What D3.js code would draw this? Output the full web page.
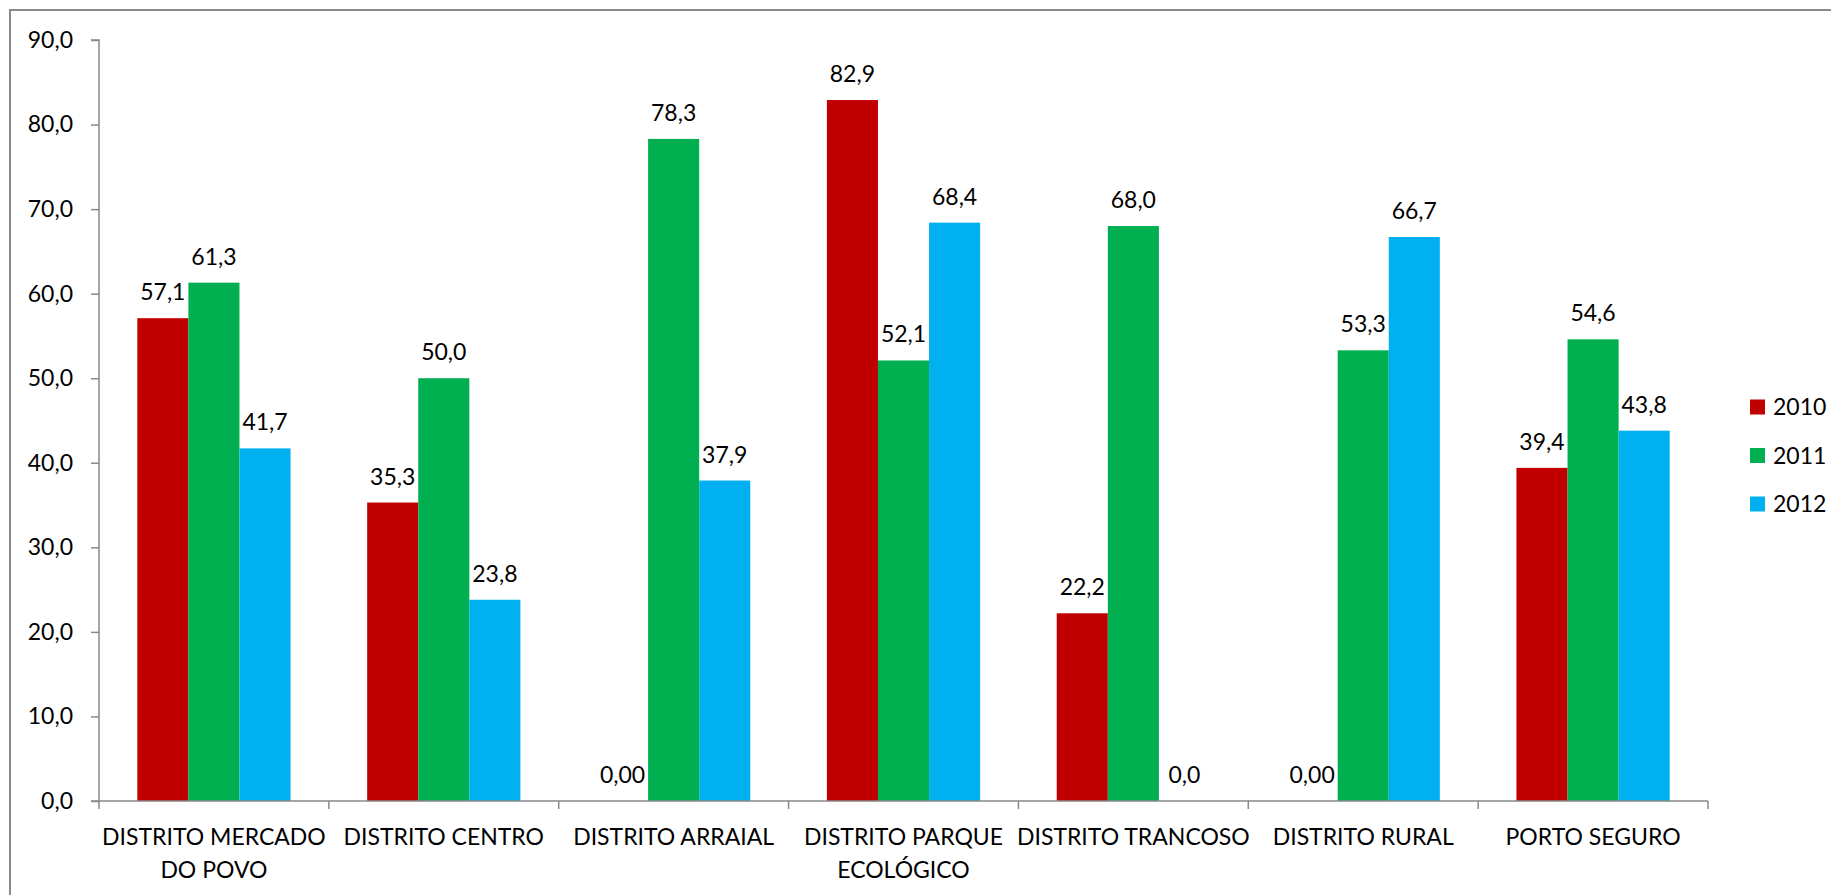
<!DOCTYPE html>
<html>
<head>
<meta charset="utf-8">
<script src="https://cdn.jsdelivr.net/npm/d3@7/dist/d3.min.js"></script>
<style>
  html, body { margin: 0; padding: 0; background: #ffffff; }
  svg { display: block; }
  text { font-family: Lato, "Open Sans", sans-serif; fill: #000; }
</style>
</head>
<body>
<svg id="chart" width="1831" height="895"></svg>
<script>
// Districts of Porto Seguro, values per year
const categories = [
  "DISTRITO MERCADO DO POVO",
  "DISTRITO CENTRO",
  "DISTRITO ARRAIAL",
  "DISTRITO PARQUE ECOLÓGICO",
  "DISTRITO TRANCOSO",
  "DISTRITO RURAL",
  "PORTO SEGURO"
];
const seriesNames = ["2010", "2011", "2012"];
const values2010 = [57.1, 35.3, 0, 82.9, 22.2, 0, 39.4];
const values2011 = [61.3, 50.0, 78.3, 52.1, 68.0, 53.3, 54.6];
const values2012 = [41.7, 23.8, 37.9, 68.4, 0.0, 66.7, 43.8];
// decimals shown in each data label
const decimals2010 = [1, 1, 2, 1, 1, 2, 1];
const decimals2011 = [1, 1, 1, 1, 1, 1, 1];
const decimals2012 = [1, 1, 1, 1, 1, 1, 1];
const yTicks = [0, 10, 20, 30, 40, 50, 60, 70, 80, 90];
const colors = ["#C00000", "#00B050", "#00B0F0"];

const seriesValues = [values2010, values2011, values2012];
const seriesDecimals = [decimals2010, decimals2011, decimals2012];

const svg = d3.select("#chart");
const fontSize = 23;
const axisColor = "#898989";

// chart area frame
svg.append("rect")
  .attr("x", 10).attr("y", 10)
  .attr("width", 1850).attr("height", 900)
  .attr("fill", "none")
  .attr("stroke", axisColor)
  .attr("stroke-width", 2);

const plot = { left: 99, right: 1708, top: 40, bottom: 801 };

const x0 = d3.scaleBand()
  .domain(categories)
  .range([plot.left, plot.right])
  .paddingInner(0).paddingOuter(0);

// bars take 3 slots, the gap equals 150% of one bar width
const barW = x0.bandwidth() / (3 + 1.5);
const x1 = d3.scaleBand()
  .domain(seriesNames)
  .range([barW * 0.75, barW * 3.75])
  .padding(0);

const y = d3.scaleLinear().domain([0, 90]).range([plot.bottom, plot.top]);

const fmt = (v, d) => v.toFixed(d).replace(".", ",");

// bars
seriesNames.forEach((name, si) => {
  const g = svg.append("g").attr("class", "series-" + name);
  const data = categories.map((c, ci) => ({
    c, v: seriesValues[si][ci], d: seriesDecimals[si][ci]
  }));
  g.selectAll("rect")
    .data(data)
    .join("rect")
    .attr("x", d => x0(d.c) + x1(name))
    .attr("y", d => y(d.v))
    .attr("width", x1.bandwidth())
    .attr("height", d => y(0) - y(d.v))
    .attr("fill", colors[si]);
  g.selectAll("text")
    .data(data)
    .join("text")
    .attr("x", d => x0(d.c) + x1(name) + x1.bandwidth() / 2)
    .attr("y", d => y(d.v) - 18)
    .attr("text-anchor", "middle")
    .attr("font-size", fontSize)
    .text(d => fmt(d.v, d.d));
});

// y axis
const yAxis = d3.axisLeft(y)
  .tickValues(yTicks)
  .tickSize(8)
  .tickPadding(18)
  .tickFormat(d => fmt(d, 1));
const gy = svg.append("g")
  .attr("transform", `translate(${plot.left},0)`)
  .call(yAxis);
gy.select(".domain").attr("stroke", axisColor).attr("stroke-width", 1.5)
  .attr("d", `M-8,${plot.top}H0V${plot.bottom}`);
gy.selectAll(".tick line").attr("stroke", axisColor).attr("stroke-width", 1.5);
gy.selectAll(".tick text")
  .attr("font-size", fontSize)
  .attr("font-family", "Lato, 'Open Sans', sans-serif")
  .attr("fill", "#000");

// x axis: line with tick marks at category boundaries
const gx = svg.append("g").attr("class", "x-axis");
gx.append("line")
  .attr("x1", plot.left - 8).attr("x2", plot.right)
  .attr("y1", y(0)).attr("y2", y(0))
  .attr("stroke", axisColor).attr("stroke-width", 1.5);
const boundaries = categories.map(c => x0(c)).concat([x0(categories[categories.length - 1]) + x0.bandwidth()]);
gx.selectAll("line.tick")
  .data(boundaries)
  .join("line")
  .attr("class", "tick")
  .attr("x1", d => d).attr("x2", d => d)
  .attr("y1", y(0)).attr("y2", y(0) + 8)
  .attr("stroke", axisColor).attr("stroke-width", 1.5);

// category labels, wrapped to the band width
const maxW = x0.bandwidth() + 4;
categories.forEach(c => {
  const t = gx.append("text")
    .attr("x", x0(c) + x0.bandwidth() / 2)
    .attr("y", 845)
    .attr("text-anchor", "middle")
    .attr("font-size", fontSize);
  const words = c.split(" ");
  let line = [];
  let lineNo = 0;
  let tspan = t.append("tspan").attr("x", x0(c) + x0.bandwidth() / 2).attr("dy", 0);
  words.forEach(w => {
    line.push(w);
    tspan.text(line.join(" "));
    if (tspan.node().getComputedTextLength() > maxW && line.length > 1) {
      line.pop();
      tspan.text(line.join(" "));
      line = [w];
      lineNo++;
      tspan = t.append("tspan")
        .attr("x", x0(c) + x0.bandwidth() / 2)
        .attr("dy", 33)
        .text(w);
    }
  });
});

// legend
const legend = svg.append("g").attr("class", "legend");
seriesNames.forEach((name, i) => {
  const cy = 407 + i * 48.5;
  legend.append("rect")
    .attr("x", 1750).attr("y", cy - 7.5)
    .attr("width", 15).attr("height", 15)
    .attr("fill", colors[i]);
  legend.append("text")
    .attr("x", 1773).attr("y", cy)
    .attr("dy", "0.36em")
    .attr("font-size", fontSize)
    .text(name);
});
</script>
</body>
</html>
